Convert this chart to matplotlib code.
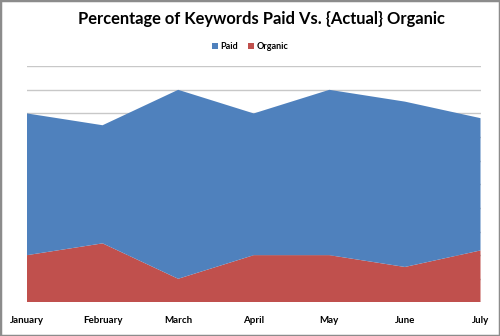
import numpy as np
import matplotlib.pyplot as plt
from matplotlib.patches import Rectangle

# Monthly keyword share (percent), stacked area
months = ['January', 'February', 'March', 'April', 'May', 'June', 'July']
organic = [20, 25, 10, 20, 20, 15, 22]
paid = [60, 50, 80, 60, 70, 70, 56]

plt.rcParams['font.family'] = ['Lato', 'DejaVu Sans']

fig = plt.figure(figsize=(5, 3.36), dpi=100)
ax = fig.add_axes([0.054, 0.100, 0.907, 0.703])

x = np.arange(len(months))
ax.stackplot(x, organic, paid, colors=['#C0504D', '#4F81BD'],
             labels=['Organic', 'Paid'], zorder=2)

ax.set_xlim(0, len(months) - 1)
ax.set_ylim(0, 100)
ax.set_yticks(np.arange(0, 101, 10))
ax.yaxis.grid(True, color='#c8c8c8', linewidth=1, zorder=0)
ax.set_axisbelow(True)
ax.tick_params(axis='y', left=False, labelleft=False)
ax.tick_params(axis='x', length=0, pad=10)
ax.set_xticks(x)
ax.set_xticklabels(months, fontsize=7, fontweight='bold')
for s in ax.spines.values():
    s.set_visible(False)

fig.text(0.523, 0.943, 'Percentage of Keywords Paid Vs. {Actual} Organic',
         ha='center', va='center', fontsize=11.9, fontweight='bold')

handles, labels = ax.get_legend_handles_labels()
leg = fig.legend(handles[::-1], labels[::-1], loc='center', bbox_to_anchor=(0.5, 0.862),
                 ncol=2, frameon=False, handlelength=0.7, handleheight=0.7,
                 handletextpad=0.3, columnspacing=1.0, prop={'weight': 'bold', 'size': 6.5})

fig.patches.append(Rectangle((0, 0), 1, 1, transform=fig.transFigure, fill=False,
                             edgecolor='#8c8c8c', linewidth=2.5))

plt.savefig('out.png', dpi=100)
